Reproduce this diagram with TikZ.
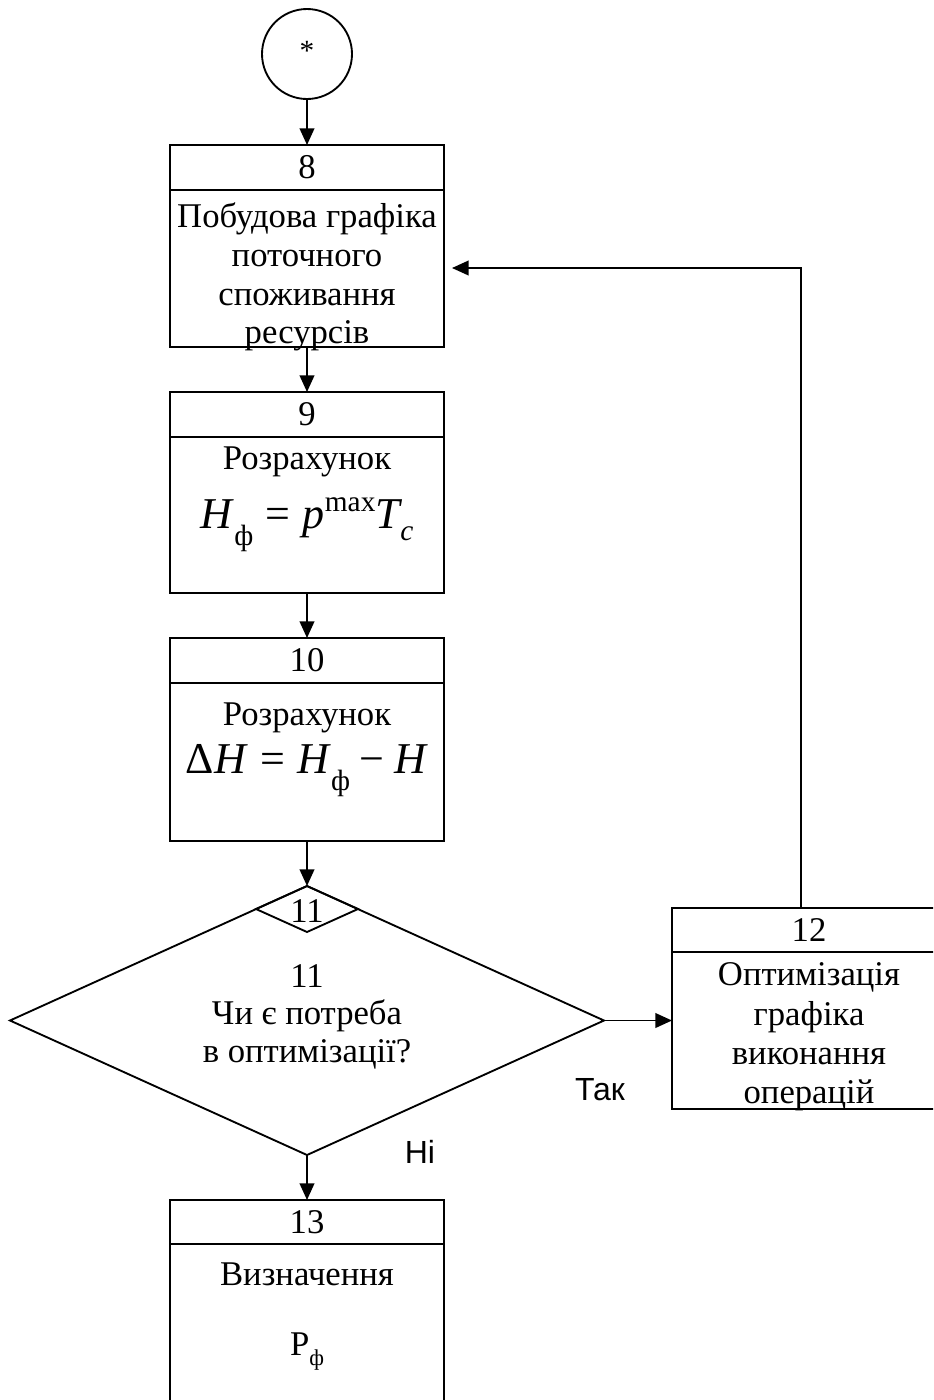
\documentclass[tikz,border=0pt]{standalone}
\usepackage{fontspec}
\setmainfont{Liberation Serif}
\newfontfamily\lsans{Liberation Sans}
\usetikzlibrary{shapes.geometric,arrows.meta}
\newcommand\msz{\fontsize{26}{30}\selectfont}
\newcommand\fm{\fontsize{33}{34}\selectfont}
\newcommand\fsm{\fontsize{22}{22}\selectfont}
\newcommand\fsub[2]{\raisebox{#1}{\fsm #2}}
\begin{document}
\begin{tikzpicture}[x=0.75pt,y=-0.75pt,
  blk/.style={draw, rectangle, line width=1.4pt, inner sep=0pt, outer sep=0pt, anchor=north west, minimum width=205.5pt},
  txt/.style={inner sep=0pt, anchor=base, font=\msz},
  arr/.style={-{Triangle[length=12.5pt,width=11pt]}, line width=1.4pt},
  dia/.style={draw, diamond, line width=1.4pt, inner sep=0pt, outer sep=0pt},
  lab/.style={inner sep=0pt, anchor=base, font=\lsans\fontsize{24}{28}\selectfont}
]
\useasboundingbox (0,0) rectangle (933,1400);
\clip (0,0) rectangle (933,1400);

% start circle
\node[draw, circle, line width=1.4pt, minimum size=67.5pt, inner sep=0pt, outer sep=0pt] (c) at (307,54) {};
\node[inner sep=0pt, anchor=base, font=\fontsize{22}{24}\selectfont] (cstar) at (307,60) {*};

% block 8
\node[blk, minimum height=151.5pt] (b8) at (170,145) {};
\draw[line width=1.4pt] (b8.north west) ++(0,45) -- ++(274,0);
\node[txt] (n8) at (307,178) {8};
\node[txt] (t8a) at (307,227) {Побудова графіка};
\node[txt] (t8b) at (307,266) {поточного};
\node[txt] (t8c) at (307,305) {споживання};
\node[txt] (t8d) at (307,343) {ресурсів};

% block 9
\node[blk, minimum height=150.75pt] (b9) at (170,392) {};
\draw[line width=1.4pt] (b9.north west) ++(0,45) -- ++(274,0);
\node[txt] (n9) at (307,425) {9};
\node[txt] (t9a) at (307,469) {Розрахунок};
\node[txt] (t9b) at (307,528) {\fm\textit{H}\fsub{-0.4em}{ф}\hspace{0.28em}=\hspace{0.28em}\textit{p}\fsub{0.38em}{max}\textit{T}\kern-0.05em\fsub{-0.28em}{\textit{c}}};

% block 10
\node[blk, minimum height=152.25pt] (b10) at (170,638) {};
\draw[line width=1.4pt] (b10.north west) ++(0,45) -- ++(274,0);
\node[txt] (n10) at (307,671) {10};
\node[txt] (t10a) at (307,725) {Розрахунок};
\node[txt] (t10b) at (307,773) {\fm Δ\textit{H}\hspace{0.28em}=\hspace{0.28em}\textit{H}\fsub{-0.4em}{ф}\hspace{0.22em}−\hspace{0.22em}\textit{H}};

% decision 11
\node[dia, minimum width=445.5pt, minimum height=201.75pt] (d11) at (307,1020.5) {};
\node[dia, minimum width=76.5pt, minimum height=34.5pt] (d11s) at (307,909) {};
\node[txt] (n11s) at (307,922) {11};
\node[txt] (n11) at (307,987) {11};
\node[txt] (t11a) at (307,1024) {Чи є потреба};
\node[txt] (t11b) at (307,1062) {в оптимізації?};

% block 12
\node[blk, minimum height=150.75pt] (b12) at (672,908) {};
\draw[line width=1.4pt] (b12.north west) ++(0,44) -- ++(274,0);
\node[txt] (n12) at (809,941) {12};
\node[txt] (t12a) at (809,985) {Оптимізація};
\node[txt] (t12b) at (809,1025) {графіка};
\node[txt] (t12c) at (809,1064) {виконання};
\node[txt] (t12d) at (809,1103) {операцій};

% block 13
\node[blk, minimum height=165pt] (b13) at (170,1200) {};
\draw[line width=1.4pt] (b13.north west) ++(0,44) -- ++(274,0);
\node[txt] (n13) at (307,1233) {13};
\node[txt] (t13a) at (307,1285) {Визначення};
\node[txt] (t13b) at (307,1355) {P\raisebox{-0.3em}{\fontsize{17}{17}\selectfont ф}};

% labels
\node[lab] (yes) at (600,1100) {Так};
\node[lab] (no) at (420,1163) {Ні};

% connectors
\draw[arr] (c.south) -- (b8.north);
\draw[arr] (b8.south) -- (b9.north);
\draw[arr] (b9.south) -- (b10.north);
\draw[arr] (b10.south) -- (d11.north);
\draw[arr] (d11.south) -- (b13.north);
\draw[arr] (d11.east) -- (d11.east -| b12.west);
\coordinate (le) at (452,268);
\draw[arr] ([xshift=-6pt]b12.north) |- (le);
\end{tikzpicture}
\end{document}
